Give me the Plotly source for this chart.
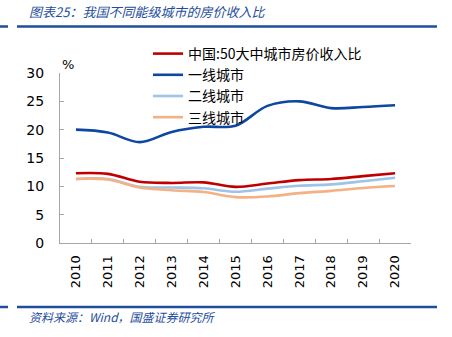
import plotly.graph_objects as go

years = ["2010", "2011", "2012", "2013", "2014", "2015", "2016", "2017", "2018", "2019", "2020"]
names = ["中国:50大中城市房价收入比", "一线城市", "二线城市", "三线城市"]
china50 = [12.3, 12.2, 10.8, 10.6, 10.7, 9.9, 10.5, 11.1, 11.3, 11.8, 12.3]
tier1 = [20.0, 19.5, 17.8, 19.6, 20.5, 20.7, 24.2, 25.0, 23.8, 24.0, 24.3]
tier2 = [11.3, 11.3, 9.9, 9.8, 9.65, 9.05, 9.6, 10.1, 10.35, 10.9, 11.5]
tier3 = [11.3, 11.2, 9.8, 9.3, 9.0, 8.1, 8.2, 8.8, 9.2, 9.7, 10.05]
series = [china50, tier1, tier2, tier3]
colors = ["#C00000", "#0D47A1", "#9DC3E6", "#F4B183"]

W, H = 452, 337
X0, X1, Y0, Y1 = 60, 411, 73, 243

def px(x):
    return (x - X0) / (X1 - X0)

def py(y):
    return (Y1 - y) / (Y1 - Y0)

fig = go.Figure()
for n, s, c in zip(names, series, colors):
    fig.add_trace(go.Scatter(x=years, y=s, name=n, mode="lines",
                             line=dict(color=c, width=2.6, shape="spline", smoothing=1)))

cjk = "Noto Sans CJK SC"
blue = "#1F4E9C"

fig.update_layout(
    width=W, height=H,
    margin=dict(l=X0, r=W - X1, t=Y0, b=H - Y1, pad=0),
    paper_bgcolor="white", plot_bgcolor="white",
    font=dict(family="DejaVu Sans, " + cjk, size=14, color="#000"),
    showlegend=True,
    legend=dict(x=px(148), y=py(38), xanchor="left", yanchor="top",
                bgcolor="rgba(0,0,0,0)", font=dict(family=cjk, size=14, color="#000"),
                itemwidth=30, tracegroupgap=0),
    xaxis=dict(type="category", range=[-0.5, len(years) - 0.5], showline=True,
               linecolor="#A6A6A6", linewidth=1,
               ticks="inside", tickson="boundaries", ticklen=4, tickcolor="#A6A6A6",
               tickangle=-90, showgrid=False, zeroline=False,
               tickfont=dict(family="DejaVu Sans", size=13, color="#000"),
               ticklabelstandoff=6),
    yaxis=dict(range=[0, 30], tickvals=[0, 5, 10, 15, 20, 25, 30], showline=True,
               linecolor="#A6A6A6", linewidth=1, ticks="inside", ticklen=4,
               tickcolor="#A6A6A6", showgrid=False, zeroline=False,
               tickfont=dict(family="DejaVu Sans", size=14, color="#000"),
               ticklabelstandoff=12),
)

fig.add_annotation(text="%", x=px(60), y=py(55), xref="paper", yref="paper",
                   showarrow=False, font=dict(size=13, family="DejaVu Sans", color="#000"))
fig.add_annotation(text="<i>图表25：我国不同能级城市的房价收入比</i>", x=px(27), y=py(12),
                   xref="paper", yref="paper", xanchor="left", yanchor="middle",
                   showarrow=False, font=dict(size=13, family=cjk, color=blue))
fig.add_annotation(text="<i>资料来源：Wind，国盛证券研究所</i>", x=px(27), y=py(316),
                   xref="paper", yref="paper", xanchor="left", yanchor="middle",
                   showarrow=False, font=dict(size=12, family=cjk, color=blue))

for yy in (26.5, 307):
    for a, b in ((0, 8), (17, 437)):
        fig.add_shape(type="line", xref="paper", yref="paper", x0=px(a), x1=px(b),
                      y0=py(yy), y1=py(yy), line=dict(color=blue, width=2.5))

fig.write_html("out.html")
